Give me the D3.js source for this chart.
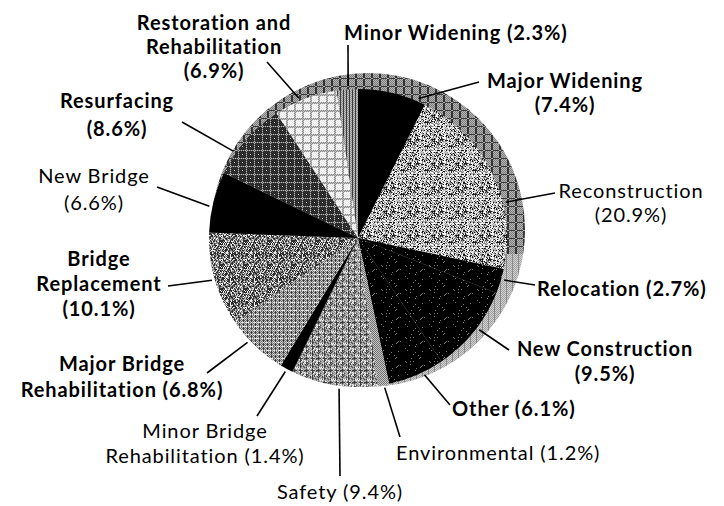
<!DOCTYPE html>
<html>
<head>
<meta charset="utf-8">
<script src="https://cdn.jsdelivr.net/npm/d3@7"></script>
<style>
  html, body { margin: 0; padding: 0; background: #fff; }
  svg { display: block; }
  .lbl { font-family: Lato, "Open Sans", sans-serif; font-size: 20px; letter-spacing: 0.9px; fill: #000; }
</style>
</head>
<body>
<svg id="chart" width="724" height="506"></svg>
<script>
// Project categories in clockwise order, starting just left of twelve o'clock
const categories = [
  "Minor Widening", "Major Widening", "Reconstruction", "Relocation",
  "New Construction", "Other", "Environmental", "Safety",
  "Minor Bridge Rehabilitation", "Major Bridge Rehabilitation",
  "Bridge Replacement", "New Bridge", "Resurfacing",
  "Restoration and Rehabilitation"
];
// Share of projects, percent
const shares = [2.3, 7.4, 20.9, 2.7, 9.5, 6.1, 1.2, 9.4, 1.4, 6.8, 10.1, 6.6, 8.6, 6.9];
// How each category name is broken over lines in its label
const nameLines = [
  ["Minor Widening"], ["Major Widening"], ["Reconstruction"], ["Relocation"],
  ["New Construction"], ["Other"], ["Environmental"], ["Safety"],
  ["Minor Bridge", "Rehabilitation"], ["Major Bridge", "Rehabilitation"],
  ["Bridge", "Replacement"], ["New Bridge"], ["Resurfacing"],
  ["Restoration and", "Rehabilitation"]
];
// Whether the percentage sits on its own line under the name
const pctOwnLine = [false, true, true, false, true, false, false, false, false, false, true, true, true, true];
// Bold labels
const boldLabel = [true, true, false, true, true, true, false, false, false, true, true, false, true, true];

// ---- layout -------------------------------------------------------------
const W = 724, H = 506;
const cx = 358, cy = 238, R = 149;
const shadow = { dx: 10, dy: -8, r: 157 };
const leaderR = 152;

// label placement: anchor, x, first baseline, line step, leader start, position of leader end within slice
const labelLayout = [
  { a: "start",  x: 344, y: 40,  step: 24, lx: 348, ly: 45,  t: 0.55 },
  { a: "middle", x: 565, y: 88,  step: 24, lx: 479, ly: 82,  t: 0.88 },
  { a: "middle", x: 631, y: 198, step: 24, lx: 555, ly: 193, t: 0.66 },
  { a: "start",  x: 537, y: 296, step: 24, lx: 535, ly: 285, t: 0.42 },
  { a: "middle", x: 605, y: 356, step: 25, lx: 509, ly: 350, t: 0.45 },
  { a: "start",  x: 452, y: 416, step: 24, lx: 450, ly: 405, t: 0.37 },
  { a: "start",  x: 396, y: 460, step: 24, lx: 400, ly: 437, t: 0.45 },
  { a: "middle", x: 340, y: 499, step: 24, lx: 340, ly: 476, t: 0.44 },
  { a: "middle", x: 205, y: 438, step: 25, lx: 257, ly: 416, t: 0.48 },
  { a: "middle", x: 122, y: 371, step: 26, lx: 207, ly: 373, t: 0.63 },
  { a: "middle", x: 99,  y: 266, step: 25, lx: 168, ly: 286, t: 0.50 },
  { a: "middle", x: 94,  y: 183, step: 27, lx: 157, ly: 187, t: 0.42 },
  { a: "middle", x: 117, y: 108, step: 28, lx: 182, ly: 122, t: 0.29 },
  { a: "middle", x: 214, y: 30,  step: 24, lx: 267, ly: 62,  t: 0.41 }
];

// fill pattern used by each slice
const slicePattern = [
  "vstripe", "solid", "speckleLight", "blackSpeck", "blackSpeck", "blackSpeck",
  "envCheck", "safety", "solid", "bridgeCheck", "speckleMid", "solid",
  "darkCheck", "lightCheck"
];

const svg = d3.select("#chart");
svg.append("rect").attr("width", W).attr("height", H).attr("fill", "#fff");
const defs = svg.append("defs");

// deterministic hash for pixel textures
function hash(x, y, s) {
  let h = (x * 374761393 + y * 668265263 + s * 982451653) | 0;
  h = (h ^ (h >>> 13)) * 1274126177 | 0;
  h = h ^ (h >>> 16);
  return ((h >>> 0) % 1000) / 1000;
}

function pixelPattern(id, size, colorAt) {
  const p = defs.append("pattern").attr("id", id)
    .attr("patternUnits", "userSpaceOnUse")
    .attr("width", size).attr("height", size);
  for (let y = 0; y < size; y++) {
    for (let x = 0; x < size; x++) {
      p.append("rect").attr("x", x).attr("y", y).attr("width", 1).attr("height", 1)
        .attr("fill", colorAt(x, y));
    }
  }
}

pixelPattern("speckleLight", 24, (x, y) => {
  const h = hash(x, y, 1);
  return h < 0.24 ? "#1e1e1e" : h < 0.48 ? "#8a8a8a" : h < 0.70 ? "#c4c4c4" : "#f6f6f6";
});
pixelPattern("speckleMid", 24, (x, y) => {
  const h = hash(x, y, 2);
  if (x % 5 === 0 && h < 0.6) return "#3a3a3a";
  return h < 0.36 ? "#2a2a2a" : h < 0.66 ? "#7c7c7c" : h < 0.84 ? "#b4b4b4" : "#ececec";
});
pixelPattern("blackSpeck", 24, (x, y) => {
  const h = hash(x, y, 3);
  return h < 0.03 ? "#777" : "#000";
});
pixelPattern("darkCheck", 8, (x, y) => {
  if (x % 8 === 0 || y % 8 === 0) return (x + y) % 2 ? "#b8b8b8" : "#5a5a5a";
  if ((x % 8 === 4) && (y % 8 === 4)) return "#cfcfcf";
  return (x + y) % 2 ? "#1e1e1e" : "#3a3a3a";
});
pixelPattern("lightCheck", 8, (x, y) => {
  if (x % 8 < 2 || y % 8 < 2) return (x + y) % 2 ? "#8c8c8c" : "#c0c0c0";
  return (x + y) % 2 ? "#ffffff" : "#e6e6e6";
});
pixelPattern("vstripe", 6, (x, y) => {
  if (x % 3 === 0) return "#3c3c3c";
  return (x + y) % 2 ? "#8c8c8c" : "#c4c4c4";
});
pixelPattern("safety", 12, (x, y) => {
  const h = hash(x, y, 4);
  if (x % 6 === 2) return h < 0.6 ? "#3a3a3a" : "#888";
  if (y % 6 === 0 && h < 0.5) return "#444";
  return (x + y) % 2 ? (h < 0.2 ? "#555" : "#bdbdbd") : (h < 0.3 ? "#f0f0f0" : "#8e8e8e");
});
pixelPattern("bridgeCheck", 12, (x, y) => {
  const h = hash(x, y, 5);
  if (y % 4 === 0) return h < 0.5 ? "#e0e0e0" : "#8a8a8a";
  if (x % 4 === 1) return "#3a3a3a";
  return (x + y) % 2 ? "#c4c4c4" : "#666";
});
pixelPattern("envCheck", 6, (x, y) => ((x + y) % 2 ? "#c8c8c8" : "#6e6e6e"));
pixelPattern("rimDark", 8, (x, y) => {
  if (x % 8 === 3 || x % 8 === 4) return y % 8 === 6 ? "#aaa" : "#333";
  if (y % 8 === 6) return "#3c3c3c";
  return (x + y) % 2 ? "#b4b4b4" : "#7c7c7c";
});
pixelPattern("rimLight", 6, (x, y) => {
  if (x % 6 === 2) return "#8a8a8a";
  return (x + y) % 2 ? "#d2d2d2" : "#a0a0a0";
});

function fillFor(name) {
  return name === "solid" ? "#000" : `url(#${name})`;
}

// ---- pie ---------------------------------------------------------------
const total = d3.sum(shares);
const startAngle = -shares[0] / total * 2 * Math.PI;
const pie = d3.pie().sort(null).value(d => d)
  .startAngle(startAngle).endAngle(startAngle + 2 * Math.PI);
const arcs = pie(shares);
const arc = d3.arc().innerRadius(0).outerRadius(R);

// offset backing disc that shows as a rim to the upper right
svg.append("clipPath").attr("id", "upperClip")
  .append("rect").attr("x", 0).attr("y", 0).attr("width", W).attr("height", cy + 16);
svg.append("clipPath").attr("id", "lowerClip")
  .append("rect").attr("x", 0).attr("y", cy + 16).attr("width", W).attr("height", H);
svg.append("circle").attr("cx", cx + shadow.dx).attr("cy", cy + shadow.dy).attr("r", shadow.r)
  .attr("fill", "url(#rimDark)").attr("clip-path", "url(#upperClip)");
svg.append("circle").attr("cx", cx + shadow.dx).attr("cy", cy + shadow.dy).attr("r", shadow.r)
  .attr("fill", "url(#rimLight)").attr("clip-path", "url(#lowerClip)");

const g = svg.append("g").attr("transform", `translate(${cx},${cy})`);
g.selectAll("path.slice").data(arcs).join("path")
  .attr("class", "slice")
  .attr("d", arc)
  .attr("fill", (d, i) => fillFor(slicePattern[i]));

// ---- leader lines and labels ---------------------------------------------
const leaders = svg.append("g");
const labels = svg.append("g");

arcs.forEach((d, i) => {
  const L = labelLayout[i];
  const ang = d.startAngle + L.t * (d.endAngle - d.startAngle);
  const px = cx + leaderR * Math.sin(ang);
  const py = cy - leaderR * Math.cos(ang);
  leaders.append("line")
    .attr("x1", L.lx).attr("y1", L.ly).attr("x2", px).attr("y2", py)
    .attr("stroke", "#000").attr("stroke-width", 1.6);

  const pct = `(${shares[i].toFixed(1)}%)`;
  const lines = nameLines[i].slice();
  if (pctOwnLine[i]) lines.push(pct);
  else lines[lines.length - 1] = lines[lines.length - 1] + " " + pct;

  const txt = labels.append("text")
    .attr("class", "lbl")
    .attr("text-anchor", L.a)
    .attr("font-weight", boldLabel[i] ? 700 : 400);
  lines.forEach((s, k) => {
    txt.append("tspan").attr("x", L.x).attr("y", L.y + k * L.step).text(s);
  });
});
</script>
</body>
</html>
